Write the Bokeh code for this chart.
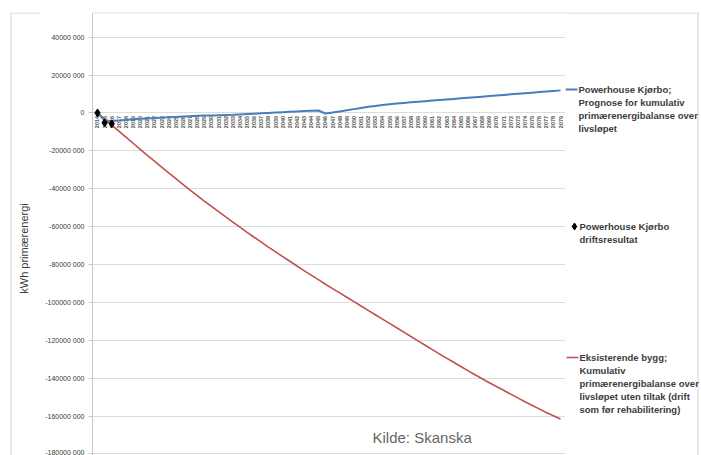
import numpy as np
from math import pi
from bokeh.plotting import figure
from bokeh.layouts import row
from bokeh.models import Label, FixedTicker, ColumnDataSource, Range1d, Span
from bokeh.core.properties import value
from bokeh.embed import file_html
from bokeh.resources import INLINE

# ---------------- data ----------------
years = [str(y) for y in range(2014, 2080)]

# Powerhouse Kjørbo; prognose, million kWh (cumulative)
blue_m = [0.0, -4.0, -4.3, -4.0, -3.7, -3.4, -3.1, -2.9, -2.7, -2.5,
          -2.3, -2.1, -1.9, -1.7, -1.5, -1.4, -1.3, -1.2, -1.1, -1.0,
          -0.8, -0.6, -0.4, -0.2, 0.0, 0.2, 0.4, 0.6, 0.8, 1.0,
          1.2, 1.3, -0.3, 0.2, 0.8, 1.4, 2.0, 2.6, 3.2, 3.7,
          4.2, 4.6, 5.0, 5.3, 5.6, 5.9, 6.2, 6.5, 6.8, 7.1,
          7.4, 7.7, 8.0, 8.3, 8.6, 8.9, 9.2, 9.5, 9.8, 10.1,
          10.4, 10.7, 11.0, 11.3, 11.6, 11.9]

# Eksisterende bygg, million kWh (cumulative)
red_m = [0.0, -3.2, -6.4, -9.6, -12.8, -16.0, -19.2, -22.4, -25.5, -28.6,
         -31.7, -34.7, -37.7, -40.7, -43.6, -46.5, -49.3, -52.1, -54.9, -57.6,
         -60.3, -63.0, -65.6, -68.2, -70.8, -73.3, -75.8, -78.3, -80.8, -83.2,
         -85.6, -88.0, -90.4, -92.7, -95.0, -97.3, -99.6, -101.9, -104.2, -106.5,
         -108.8, -111.1, -113.4, -115.7, -118.0, -120.3, -122.6, -124.9, -127.2, -129.4,
         -131.6, -133.8, -136.0, -138.2, -140.3, -142.4, -144.4, -146.4, -148.4, -150.4,
         -152.4, -154.3, -156.2, -158.1, -159.8, -161.5]

# Powerhouse Kjørbo driftsresultat, million kWh
drift_years = ["2014", "2015", "2016"]
drift_m = [0.0, -5.2, -5.7]

y_ticks = [40e6, 20e6, 0, -20e6, -40e6, -60e6, -80e6, -100e6,
           -120e6, -140e6, -160e6, -180e6]
y_tick_labels = ["40000 000", "20000 000", "0", "-20000 000", "-40000 000",
                 "-60000 000", "-80000 000", "-100000 000", "-120000 000",
                 "-140000 000", "-160000 000", "-180000 000"]

legend_blue = ["Powerhouse Kjørbo;", "Prognose for kumulativ",
               "primærenergibalanse over", "livsløpet"]
legend_black = ["Powerhouse Kjørbo", "driftsresultat"]
legend_red = ["Eksisterende bygg;", "Kumulativ", "primærenergibalanse over",
              "livsløpet uten tiltak (drift", "som før rehabilitering)"]
y_title = "kWh primærenergi"
caption = "Kilde: Skanska"

# ---------------- layout constants ----------------
H = 455
TOP = 12
LW = 40            # left helper figure (y title)
MW = 525           # main figure (frame from canvas x 92 to 565)
RW = 701 - LW - MW  # right helper figure (legend)
BORDER = "#d4d4d4"
LEG_STEP = 13


def helper(w):
    f = figure(width=w, height=H, output_backend="svg", toolbar_location=None,
               title_location=None,
               x_range=Range1d(0, w), y_range=Range1d(H, TOP),
               x_axis_location=None, y_axis_location=None,
               min_border_left=0, min_border_right=0,
               min_border_top=TOP, min_border_bottom=0)
    f.outline_line_color = None
    f.grid.visible = False
    f.background_fill_color = "white"
    f.border_fill_color = "white"
    return f


def lab(f, text, x, y, size="9.5px", color="#3c3c3c", style="bold",
        font="Liberation Sans", angle=0, align="left"):
    f.add_layout(Label(x=x, y=y, text=text, text_font=font, text_font_size=size,
                       text_color=color, text_font_style=style,
                       text_baseline="middle", text_align=align, angle=angle))


# ---------------- main figure ----------------
idx = list(range(len(years)))
pos = {y: i for i, y in enumerate(years)}

p = figure(width=MW, height=H, output_backend="svg", toolbar_location=None,
           x_axis_location=None,
           x_range=Range1d(-0.70, 65.7), y_range=Range1d(-180.8e6, 53.0e6),
           min_border_left=92 - LW, min_border_right=0, min_border_top=TOP,
           min_border_bottom=0)
p.outline_line_color = None
p.background_fill_color = "white"
p.border_fill_color = "white"

ax = p.yaxis[0]
ax.ticker = FixedTicker(ticks=y_ticks)
ax.major_label_overrides = {t: l for t, l in zip(y_ticks, y_tick_labels)}
ax.major_label_text_font = "Liberation Sans"
ax.major_label_text_font_size = "7px"
ax.major_label_text_color = "#3a3a3a"
ax.major_label_standoff = 4
ax.axis_line_color = "#c8c8c8"
ax.major_tick_line_color = "#c8c8c8"
ax.major_tick_out = 4
ax.major_tick_in = 0
ax.minor_tick_line_color = None

p.xgrid.grid_line_color = None
p.ygrid.ticker = FixedTicker(ticks=y_ticks)
p.ygrid.grid_line_color = "#dcdcdc"

# chart-area top border
p.add_layout(Span(location=52.8e6, dimension="width", line_color=BORDER, line_width=1))

# category labels at the zero line (rotated)
src_lbl = ColumnDataSource(dict(x=idx, y=[0] * len(idx), t=years))
p.text(x="x", y="y", text="t", source=src_lbl, angle=pi / 2,
       text_align="right", text_baseline="middle", y_offset=3,
       text_font=value("Liberation Sans"), text_font_size="5.5px",
       text_font_style="bold", text_color="#555555")

blue = np.array(blue_m) * 1e6
red = np.array(red_m) * 1e6
p.line(idx, red, line_color="#c0504d", line_width=1.6)
p.line(idx, blue, line_color="#4a7ebb", line_width=2)
p.scatter([pos[y] for y in drift_years], np.array(drift_m) * 1e6,
          marker="diamond", size=8, fill_color="black", line_color="black")

p.add_layout(Label(x=372 - 92, y=H - 437, x_units="screen", y_units="screen",
                   text=caption, text_font="Liberation Sans", text_font_size="15px",
                   text_color="#666666", text_baseline="middle"))

# ---------------- left helper (y title, border) ----------------
left = helper(LW)
left.line([10.5, 10.5], [H, 12.5], line_color=BORDER, line_width=1)
left.line([10.5, LW], [12.5, 12.5], line_color=BORDER, line_width=1)
lab(left, y_title, 23, 248, size="11px", style="normal", angle=pi / 2, align="center")

# ---------------- right helper (legend, border) ----------------
right = helper(RW)
x0 = 565
right.line([0, 697.5 - x0], [12.5, 12.5], line_color=BORDER, line_width=1)
right.line([697.5 - x0, 697.5 - x0], [12.5, H], line_color=BORDER, line_width=1)

right.line([565 - x0, 577 - x0], [89, 89], line_color="#4a7ebb", line_width=2)
for i, s in enumerate(legend_blue):
    lab(right, s, 578 - x0, 89 + i * LEG_STEP)

right.scatter([574 - x0], [226], marker="diamond", size=7, fill_color="black",
              line_color="black")
for i, s in enumerate(legend_black):
    lab(right, s, 579 - x0, 226 + i * LEG_STEP)

right.line([566 - x0, 578 - x0], [357, 357], line_color="#c0504d", line_width=1.6)
for i, s in enumerate(legend_red):
    lab(right, s, 579 - x0, 357 + i * LEG_STEP)

layout = row(left, p, right, spacing=0)
open("out.html", "w").write(file_html(layout, INLINE))
